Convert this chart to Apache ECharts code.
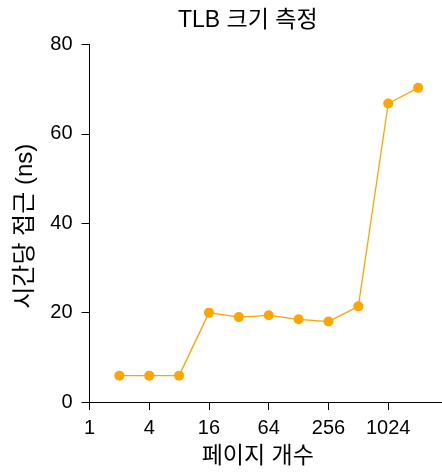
<!DOCTYPE html>
<html>
<head>
<meta charset="utf-8">
<script src="https://cdn.jsdelivr.net/npm/echarts@6/dist/echarts.min.js"></script>
<style>
html,body{margin:0;padding:0;background:#fff;}
#chart{width:442px;height:473px;}
</style>
</head>
<body>
<div id="chart"></div>
<script>
const pages = [2, 4, 8, 16, 32, 64, 128, 256, 512, 1024, 2048];
const timePerAccess = [5.9, 5.9, 5.9, 20.0, 19.0, 19.4, 18.5, 18.0, 21.4, 66.8, 70.3];
const yTicks = [0, 20, 40, 60, 80];
const xTickLabels = [1, 4, 16, 64, 256, 1024];

const FONT = '"Liberation Sans", "Noto Sans CJK KR", sans-serif';
const chart = echarts.init(document.getElementById('chart'), null, {renderer: 'canvas'});
chart.setOption({
  animation: false,
  backgroundColor: '#ffffff',
  title: {
    text: 'TLB 크기 측정',
    left: 173,
    top: 4,
    textStyle: {fontFamily: FONT, fontSize: 23, fontWeight: 'normal', color: '#000'}
  },
  grid: {left: 89.5, top: 44.5, right: 0, height: 359.2, containLabel: false},
  xAxis: {
    type: 'log',
    logBase: 2,
    min: 1,
    max: 3565,
    interval: 2,
    name: '페이지 개수',
    nameLocation: 'middle',
    nameGap: 43,
    nameTextStyle: {fontFamily: FONT, fontSize: 23, color: '#000', padding: [0, 16, 0, 0]},
    axisLine: {show: true, lineStyle: {color: '#000', width: 1}},
    axisTick: {show: true, length: 8, lineStyle: {color: '#000', width: 1}},
    axisLabel: {
      fontFamily: FONT, fontSize: 20, color: '#000', margin: 16,
      showMaxLabel: false,
      formatter: function (v) {
        const r = Math.round(v);
        return xTickLabels.indexOf(r) >= 0 ? String(r) : '';
      }
    },
    splitLine: {show: false}
  },
  yAxis: {
    type: 'value',
    min: yTicks[0],
    max: yTicks[yTicks.length - 1],
    interval: 20,
    name: '시간당 접근 (ns)',
    nameLocation: 'middle',
    nameRotate: 90,
    nameGap: 52,
    nameTextStyle: {fontFamily: FONT, fontSize: 24, color: '#000', padding: [0, 6, 0, 0]},
    axisLine: {show: true, lineStyle: {color: '#000', width: 1}},
    axisTick: {show: true, length: 8, lineStyle: {color: '#000', width: 1}},
    axisLabel: {fontFamily: FONT, fontSize: 20, color: '#000', margin: 17},
    splitLine: {show: false}
  },
  series: [{
    type: 'line',
    data: pages.map((p, i) => [p, timePerAccess[i]]),
    symbol: 'circle',
    symbolSize: 10,
    itemStyle: {color: '#FFA500'},
    lineStyle: {color: '#FFA500', width: 1.3},
    clip: false
  }]
});
</script>
</body>
</html>
